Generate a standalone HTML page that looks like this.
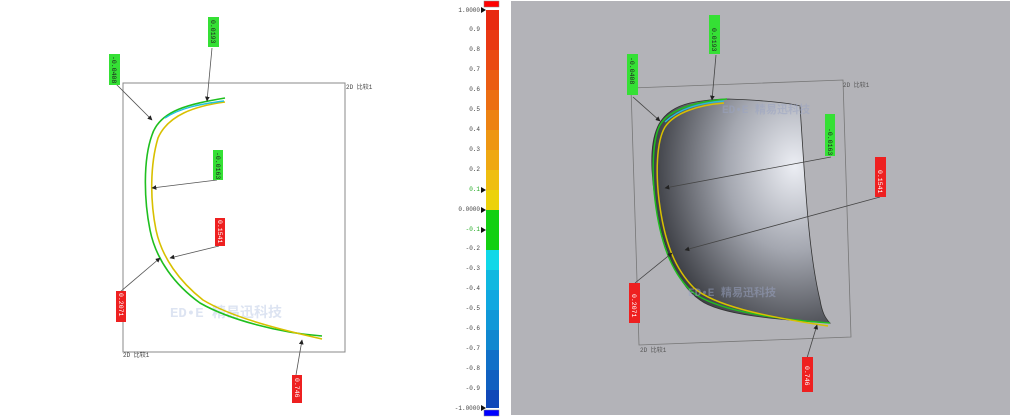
<!DOCTYPE html>
<html><head><meta charset="utf-8"><style>
body{margin:0;background:#fff;width:1010px;height:419px;overflow:hidden}
svg{display:block}
text{font-family:"Liberation Mono","Noto Sans CJK SC",monospace}
</style></head><body>
<svg width="1010" height="419" viewBox="0 0 1010 419" xmlns="http://www.w3.org/2000/svg">
<defs>
<radialGradient id="sg" cx="0.8" cy="0.3" r="0.95">
<stop offset="0" stop-color="#eceef4"/><stop offset="0.4" stop-color="#a4a7b0"/><stop offset="0.85" stop-color="#3a3c42"/><stop offset="1" stop-color="#222328"/>
</radialGradient>
<marker id="ar" viewBox="0 0 10 10" refX="9" refY="5" markerWidth="6" markerHeight="6" orient="auto"><path d="M0,0L10,5L0,10z" fill="#222"/></marker>
</defs>
<!-- LEFT PANEL -->
<rect x="123" y="83" width="222" height="269" fill="none" stroke="#888" stroke-width="1"/>
<text x="346" y="89" font-size="6" fill="#444">2D 比较1</text>
<text x="123" y="357" font-size="6" fill="#444">2D 比较1</text>
<text x="170" y="317" font-size="14" font-weight="bold" fill="#dde4f2">ED•E 精易迅科技</text>
<path d="M225,98 C190,104 160,110 152,135 C143,160 144,200 150,230 C156,260 175,285 200,303 C230,320 280,333 322,336" fill="none" stroke="#1fbf1f" stroke-width="1.6"/>
<path d="M225,102 C195,106 168,115 158,138 C150,165 150,200 156,230 C162,258 180,282 203,300 C233,318 282,330 322,339" fill="none" stroke="#d8c000" stroke-width="1.6"/>
<path d="M224,101 C200,104 180,108 165,118" fill="none" stroke="#20c0e0" stroke-width="1.4"/>
<g stroke="#555" stroke-width="0.8" marker-end="url(#ar)">
<line x1="116" y1="84" x2="152" y2="120"/>
<line x1="212" y1="48" x2="207" y2="101"/>
<line x1="217" y1="180" x2="152" y2="188"/>
<line x1="219" y1="246" x2="170" y2="258"/>
<line x1="120" y1="292" x2="160" y2="258"/>
<line x1="296" y1="375" x2="302" y2="340"/>
</g>
<g font-size="6.5">
<rect x="109" y="54" width="11" height="31" fill="#35e035"/><text transform="translate(112,56) rotate(90)" fill="#222">-0.0408</text>
<rect x="208" y="17" width="11" height="30" fill="#35e035"/><text transform="translate(211,20) rotate(90)" fill="#222">0.0193</text>
<rect x="213" y="150" width="10" height="30" fill="#35e035"/><text transform="translate(216,152) rotate(90)" fill="#222">-0.0163</text>
<rect x="215" y="218" width="10" height="28" fill="#ee2020"/><text transform="translate(218,220) rotate(90)" fill="#fff">0.1541</text>
<rect x="116" y="291" width="10" height="31" fill="#ee2020"/><text transform="translate(119,293) rotate(90)" fill="#fff">0.2071</text>
<rect x="292" y="375" width="10" height="28" fill="#ee2020"/><text transform="translate(295,378) rotate(90)" fill="#fff">0.746</text>
</g>
<!-- COLOR BAR -->
<rect x="484" y="1" width="15" height="6" fill="#ff0000" stroke="#888" stroke-width="0.5"/>
<rect x="484" y="410" width="15" height="6" fill="#0000ff" stroke="#888" stroke-width="0.5"/>
<g>
<rect x="486" y="10" width="13" height="20" fill="#e82a10"/>
<rect x="486" y="30" width="13" height="20" fill="#e93812"/>
<rect x="486" y="50" width="13" height="20" fill="#ea4a12"/>
<rect x="486" y="70" width="13" height="20" fill="#eb5c12"/>
<rect x="486" y="90" width="13" height="20" fill="#ec6e12"/>
<rect x="486" y="110" width="13" height="20" fill="#ed8212"/>
<rect x="486" y="130" width="13" height="20" fill="#ee9612"/>
<rect x="486" y="150" width="13" height="20" fill="#efa812"/>
<rect x="486" y="170" width="13" height="20" fill="#efbe10"/>
<rect x="486" y="190" width="13" height="20" fill="#ecd20a"/>
<rect x="486" y="210" width="13" height="40" fill="#12d012"/>
<rect x="486" y="250" width="13" height="20" fill="#10d8e8"/>
<rect x="486" y="270" width="13" height="20" fill="#10b8e0"/>
<rect x="486" y="290" width="13" height="20" fill="#10a8e0"/>
<rect x="486" y="310" width="13" height="20" fill="#1098d8"/>
<rect x="486" y="330" width="13" height="20" fill="#1088d0"/>
<rect x="486" y="350" width="13" height="20" fill="#1070c8"/>
<rect x="486" y="370" width="13" height="20" fill="#1060c0"/>
<rect x="486" y="390" width="13" height="18" fill="#1048b8"/>
</g>
<g font-size="6" fill="#444" text-anchor="end">
<text x="480" y="12">1.0000</text><text x="480" y="31">0.9</text><text x="480" y="51">0.8</text><text x="480" y="71">0.7</text><text x="480" y="91">0.6</text><text x="480" y="111">0.5</text><text x="480" y="131">0.4</text><text x="480" y="151">0.3</text><text x="480" y="171">0.2</text>
<text x="480" y="191" fill="#2a2">0.1</text><text x="480" y="211">0.0000</text><text x="480" y="231" fill="#2a2">-0.1</text>
<text x="480" y="250">-0.2</text><text x="480" y="270">-0.3</text><text x="480" y="290">-0.4</text><text x="480" y="310">-0.5</text><text x="480" y="330">-0.6</text><text x="480" y="350">-0.7</text><text x="480" y="370">-0.8</text><text x="480" y="390">-0.9</text><text x="480" y="410">-1.0000</text>
</g>
<g fill="#111"><path d="M481,7l5,3l-5,3z"/><path d="M481,187l5,3l-5,3z"/><path d="M481,207l5,3l-5,3z"/><path d="M481,227l5,3l-5,3z"/><path d="M481,405l5,3l-5,3z"/></g>
<!-- RIGHT PANEL -->
<rect x="511" y="1" width="499" height="414" fill="#b3b3b8"/>
<polygon points="631,88 843,80 851,337 639,345" fill="none" stroke="#777" stroke-width="0.8"/>
<text x="843" y="87" font-size="6" fill="#555">2D 比较1</text>
<text x="640" y="352" font-size="6" fill="#555">2D 比较1</text>
<path d="M728,99 C760,100 790,103 800,106 C805,180 808,250 820,300 C822,312 825,318 830,323 C780,320 720,315 700,300 C670,280 655,220 652,170 C650,130 660,110 690,103 C705,100 715,99 728,99z" fill="url(#sg)" stroke="#333" stroke-width="0.8"/>
<path d="M727,99 C700,101 670,108 660,125 C652,140 652,175 655,200 C660,240 670,270 690,290 C710,308 760,318 830,323" fill="none" stroke="#1fbf1f" stroke-width="1.5"/>
<path d="M724,103 C700,105 675,112 665,127 C656,142 656,175 659,200 C664,240 674,268 694,288 C714,305 760,316 828,326" fill="none" stroke="#d8c000" stroke-width="1.5"/>
<path d="M724,101 C700,103 680,108 665,122" fill="none" stroke="#20c0e0" stroke-width="1.3"/>
<g stroke="#444" stroke-width="0.8" marker-end="url(#ar)">
<line x1="633" y1="97" x2="660" y2="121"/>
<line x1="716" y1="55" x2="712" y2="100"/>
<line x1="831" y1="157" x2="665" y2="188"/>
<line x1="880" y1="197" x2="685" y2="250"/>
<line x1="635" y1="283" x2="672" y2="253"/>
<line x1="807" y1="358" x2="817" y2="325"/>
</g>
<g font-size="6.5">
<rect x="627" y="54" width="11" height="41" fill="#35e035"/><text transform="translate(630,57) rotate(90)" fill="#222">-0.0408</text>
<rect x="709" y="15" width="11" height="39" fill="#35e035"/><text transform="translate(712,28) rotate(90)" fill="#222">0.0193</text>
<rect x="825" y="114" width="10" height="42" fill="#35e035"/><text transform="translate(828,128) rotate(90)" fill="#222">-0.0163</text>
<rect x="875" y="157" width="11" height="40" fill="#ee2020"/><text transform="translate(878,170) rotate(90)" fill="#fff">0.1541</text>
<rect x="629" y="283" width="11" height="40" fill="#ee2020"/><text transform="translate(632,294) rotate(90)" fill="#fff">0.2071</text>
<rect x="802" y="357" width="11" height="35" fill="#ee2020"/><text transform="translate(805,366) rotate(90)" fill="#fff">0.746</text>
</g>
<text x="722" y="113" font-size="11" font-weight="bold" fill="#9aa4c4" opacity="0.5">ED•E 精易迅科技</text>
<text x="688" y="296" font-size="11" font-weight="bold" fill="#9aa4c4" opacity="0.5">ED•E 精易迅科技</text>
</svg>
</body></html>
